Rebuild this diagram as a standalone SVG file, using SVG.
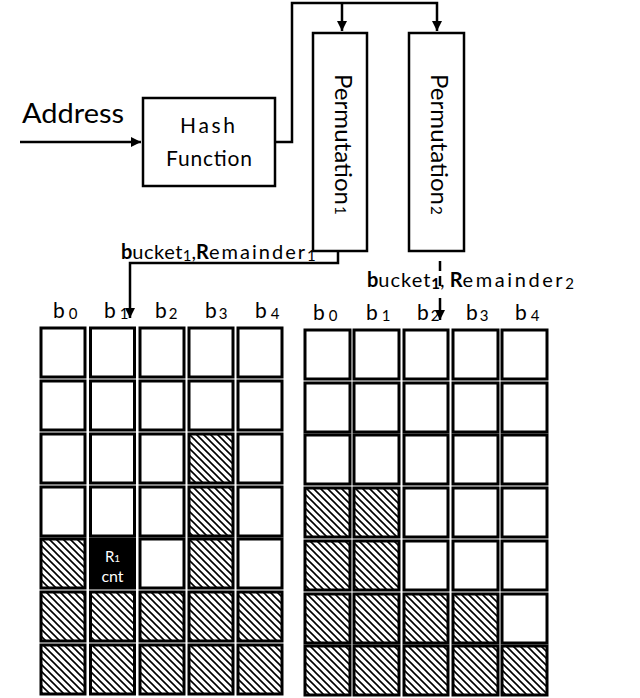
<svg xmlns="http://www.w3.org/2000/svg" width="640" height="698" viewBox="0 0 640 698">
<style>
.t{font-family:Lato,"Liberation Sans",sans-serif;fill:#000}
.box{fill:#fff;stroke:#000;stroke-width:2.5}
.c{fill:#fff;stroke:#000;stroke-width:3}
.h{fill:url(#hatch);stroke:#000;stroke-width:3}
.k{fill:#000;stroke:#000;stroke-width:3}
.ln{fill:none;stroke:#000;stroke-width:2.5}
.lab{font-family:Lato,"Liberation Sans",sans-serif;font-size:21px;fill:#000}
.sub{font-size:15px}
.w{font-family:Lato,"Liberation Sans",sans-serif;fill:#fff}
</style>
<defs>
<marker id="arr" viewBox="0 0 10 10" refX="10" refY="5" markerWidth="10" markerHeight="10" markerUnits="userSpaceOnUse" orient="auto">
<path d="M0,0 L10,5 L0,10 z" fill="#000"/>
</marker>
<pattern id="hatch" patternUnits="userSpaceOnUse" width="7" height="7">
<rect width="7" height="7" fill="#fff"/>
<path d="M-1,-1 L8,8 M-1,6 L1,8 M6,-1 L8,1" stroke="#000" stroke-width="1.6"/>
</pattern>
</defs>
<rect width="640" height="698" fill="#fff"/>

<g id="connectors">
<path class="ln" d="M20,142 H141" marker-end="url(#arr)"/>
<path class="ln" d="M275,142 H292 V3 H437 V31" marker-end="url(#arr)"/>
<path class="ln" d="M342,3 V31" marker-end="url(#arr)"/>
<path class="ln" d="M338,251 V263 H130 V318" marker-end="url(#arr)"/>
<path class="ln" d="M440,261 V271 M440,276 V286 M440,298 V312"/>
<path class="ln" d="M440,310 V320" marker-end="url(#arr)"/>
</g>

<g id="address">
<text class="t" x="22" y="123" font-size="27" textLength="102" lengthAdjust="spacingAndGlyphs">Address</text>
</g>

<g id="hash">
<rect class="box" x="143" y="98" width="132" height="88"/>
<text class="t" x="180" y="133" font-size="21" textLength="55">Hash</text>
<text class="t" x="166" y="166" font-size="21" textLength="86">Function</text>
</g>

<g id="perm1">
<rect class="box" x="313" y="33" width="54" height="218"/>
<text class="t" transform="translate(335,74) rotate(90)" font-size="24"><tspan textLength="131" lengthAdjust="spacingAndGlyphs">Permutation</tspan><tspan class="sub" dx="1">1</tspan></text>
</g>

<g id="perm2">
<rect class="box" x="409" y="33" width="55" height="218"/>
<text class="t" transform="translate(431,74) rotate(90)" font-size="24"><tspan textLength="131" lengthAdjust="spacingAndGlyphs">Permutation</tspan><tspan class="sub" dx="1">2</tspan></text>
</g>

<g id="label1">
<text class="t" x="121" y="259" font-size="20"><tspan font-weight="bold">b</tspan><tspan textLength="50">ucket</tspan><tspan class="sub" dy="2">1</tspan><tspan dy="-2">,</tspan><tspan font-weight="bold">R</tspan><tspan textLength="96">emainder</tspan><tspan class="sub" dy="2">1</tspan></text>
</g>

<g id="label2">
<text class="t" x="367" y="287" font-size="20"><tspan font-weight="bold">b</tspan><tspan textLength="52">ucket</tspan><tspan class="sub" dy="2" font-weight="bold">1</tspan><tspan dy="-2">, </tspan><tspan font-weight="bold">R</tspan><tspan textLength="100">emainder</tspan><tspan class="sub" dy="2">2</tspan></text>
</g>

<g id="left-labels">
<text class="lab" x="53" y="318">b<tspan class="sub" dx="4" dy="1">0</tspan></text>
<text class="lab" x="104" y="318">b<tspan class="sub" dx="4" dy="1">1</tspan></text>
<text class="lab" x="155" y="318">b<tspan class="sub" dx="2" dy="1">2</tspan></text>
<text class="lab" x="205" y="318">b<tspan class="sub" dx="2" dy="1">3</tspan></text>
<text class="lab" x="255" y="318">b<tspan class="sub" dx="4" dy="1">4</tspan></text>
</g>

<g id="right-labels">
<text class="lab" x="313" y="320">b<tspan class="sub" dx="4" dy="1">0</tspan></text>
<text class="lab" x="366" y="320">b<tspan class="sub" dx="4" dy="1">1</tspan></text>
<text class="lab" x="417" y="320">b<tspan class="sub" dx="2" dy="1">2</tspan></text>
<text class="lab" x="466" y="320">b<tspan class="sub" dx="2" dy="1">3</tspan></text>
<text class="lab" x="515" y="320">b<tspan class="sub" dx="4" dy="1">4</tspan></text>
</g>

<g id="left-grid">
<rect class="c" x="41" y="328" width="44" height="49"/><rect class="c" x="90.5" y="328" width="44" height="49"/><rect class="c" x="140" y="328" width="44" height="49"/><rect class="c" x="189" y="328" width="44" height="49"/><rect class="c" x="238" y="328" width="44" height="49"/>
<rect class="c" x="41" y="381" width="44" height="49"/><rect class="c" x="90.5" y="381" width="44" height="49"/><rect class="c" x="140" y="381" width="44" height="49"/><rect class="c" x="189" y="381" width="44" height="49"/><rect class="c" x="238" y="381" width="44" height="49"/>
<rect class="c" x="41" y="434" width="44" height="49"/><rect class="c" x="90.5" y="434" width="44" height="49"/><rect class="c" x="140" y="434" width="44" height="49"/><rect class="h" x="189" y="434" width="44" height="49"/><rect class="c" x="238" y="434" width="44" height="49"/>
<rect class="c" x="41" y="487" width="44" height="49"/><rect class="c" x="90.5" y="487" width="44" height="49"/><rect class="c" x="140" y="487" width="44" height="49"/><rect class="h" x="189" y="487" width="44" height="49"/><rect class="c" x="238" y="487" width="44" height="49"/>
<rect class="h" x="41" y="539" width="44" height="49"/><rect class="k" x="90.5" y="539" width="44" height="49"/><rect class="c" x="140" y="539" width="44" height="49"/><rect class="h" x="189" y="539" width="44" height="49"/><rect class="c" x="238" y="539" width="44" height="49"/>
<rect class="h" x="41" y="592" width="44" height="49"/><rect class="h" x="90.5" y="592" width="44" height="49"/><rect class="h" x="140" y="592" width="44" height="49"/><rect class="h" x="189" y="592" width="44" height="49"/><rect class="h" x="238" y="592" width="44" height="49"/>
<rect class="h" x="41" y="645" width="44" height="49"/><rect class="h" x="90.5" y="645" width="44" height="49"/><rect class="h" x="140" y="645" width="44" height="49"/><rect class="h" x="189" y="645" width="44" height="49"/><rect class="h" x="238" y="645" width="44" height="49"/>
<text class="w" x="112.5" y="562" font-size="15" text-anchor="middle">R<tspan font-size="10">1</tspan></text>
<text class="w" x="112.5" y="582" font-size="16" text-anchor="middle">cnt</text>
</g>

<g id="right-grid">
<rect class="c" x="305" y="330" width="45" height="49"/><rect class="c" x="354" y="330" width="45" height="49"/><rect class="c" x="404" y="330" width="44" height="49"/><rect class="c" x="453" y="330" width="45" height="49"/><rect class="c" x="502" y="330" width="45" height="49"/>
<rect class="c" x="305" y="383" width="45" height="49"/><rect class="c" x="354" y="383" width="45" height="49"/><rect class="c" x="404" y="383" width="44" height="49"/><rect class="c" x="453" y="383" width="45" height="49"/><rect class="c" x="502" y="383" width="45" height="49"/>
<rect class="c" x="305" y="435" width="45" height="49"/><rect class="c" x="354" y="435" width="45" height="49"/><rect class="c" x="404" y="435" width="44" height="49"/><rect class="c" x="453" y="435" width="45" height="49"/><rect class="c" x="502" y="435" width="45" height="49"/>
<rect class="h" x="305" y="488" width="45" height="49"/><rect class="h" x="354" y="488" width="45" height="49"/><rect class="c" x="404" y="488" width="44" height="49"/><rect class="c" x="453" y="488" width="45" height="49"/><rect class="c" x="502" y="488" width="45" height="49"/>
<rect class="h" x="305" y="541" width="45" height="49"/><rect class="h" x="354" y="541" width="45" height="49"/><rect class="c" x="404" y="541" width="44" height="49"/><rect class="c" x="453" y="541" width="45" height="49"/><rect class="c" x="502" y="541" width="45" height="49"/>
<rect class="h" x="305" y="594" width="45" height="49"/><rect class="h" x="354" y="594" width="45" height="49"/><rect class="h" x="404" y="594" width="44" height="49"/><rect class="h" x="453" y="594" width="45" height="49"/><rect class="c" x="502" y="594" width="45" height="49"/>
<rect class="h" x="305" y="646" width="45" height="49"/><rect class="h" x="354" y="646" width="45" height="49"/><rect class="h" x="404" y="646" width="44" height="49"/><rect class="h" x="453" y="646" width="45" height="49"/><rect class="h" x="502" y="646" width="45" height="49"/>
</g>
</svg>
